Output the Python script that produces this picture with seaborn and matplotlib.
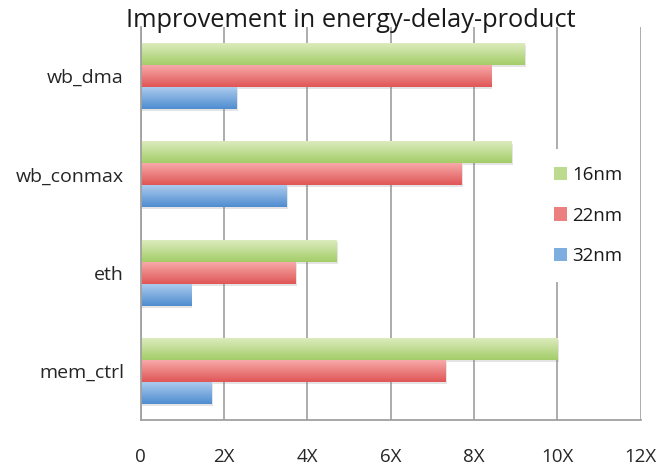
import numpy as np
import pandas as pd
import matplotlib
matplotlib.use("Agg")
import matplotlib.pyplot as plt
import matplotlib.patheffects as pe
from matplotlib.colors import LinearSegmentedColormap
from matplotlib.patches import Patch
import seaborn as sns

# Benchmark designs (top to bottom) and technology nodes
designs = ["wb_dma", "wb_conmax", "eth", "mem_ctrl"]
nodes = ["16nm", "22nm", "32nm"]

# Improvement factor in energy-delay-product per node
edp_16nm = [9.2, 8.9, 4.7, 10.0]
edp_22nm = [8.4, 7.7, 3.7, 7.3]
edp_32nm = [2.3, 3.5, 1.2, 1.7]

x_ticks = [0, 2, 4, 6, 8, 10, 12]
x_tick_labels = ["0", "2X", "4X", "6X", "8X", "10X", "12X"]

# light (top) / dark (bottom) shade of each series
shades = {
    "16nm": ("#dcebbd", "#a3cd68"),
    "22nm": ("#f7a9a9", "#e05656"),
    "32nm": ("#abcbee", "#4f8dd0"),
}
base = {"16nm": "#bcdb8f", "22nm": "#ec7f7f", "32nm": "#7eaee0"}

df = pd.DataFrame({
    "design": designs * 3,
    "node": [n for n in nodes for _ in designs],
    "value": edp_16nm + edp_22nm + edp_32nm,
})

sns.set_theme(style="white")
plt.rcParams["font.family"] = ["Open Sans", "DejaVu Sans"]
plt.rcParams["text.color"] = "#1a1a1a"

fig = plt.figure(figsize=(6.62, 4.66), dpi=100)
ax = fig.add_axes([0.2125, 0.0987, 0.7555, 0.8435])

sns.barplot(data=df, y="design", x="value", hue="node", order=designs,
            hue_order=nodes, palette=base, orient="h", width=0.67,
            ax=ax, legend=False, linewidth=0, saturation=1)

# vertical gradient fill and soft drop shadow on every bar
bars = list(ax.patches)
order = []
for node in nodes:
    order += [node] * len(designs)
grad = np.linspace(0, 1, 64).reshape(-1, 1)
for patch, node in zip(bars, order):
    x0, y0 = patch.get_x(), patch.get_y()
    w, h = patch.get_width(), patch.get_height()
    if w <= 0:
        continue
    patch.set_path_effects([
        pe.SimplePatchShadow(offset=(1.2, -1.5), shadow_rgbFace="#888888", alpha=0.22),
        pe.Normal(),
    ])
    cmap = LinearSegmentedColormap.from_list(node, list(shades[node]))
    im = ax.imshow(grad, cmap=cmap, aspect="auto", origin="upper",
                   extent=(x0, x0 + w, y0 + h, y0), interpolation="bicubic",
                   zorder=patch.get_zorder() + 0.1)
    im.set_clip_path(patch)

ax.set_xlim(0, 12)
ax.set_ylim(len(designs) - 0.5, -0.5)
ax.set_xticks(x_ticks)
ax.set_xticklabels(x_tick_labels, fontsize=13.5)
ax.set_yticks(np.arange(len(designs)))
ax.set_yticklabels(designs, fontsize=14)
ax.set_xlabel("")
ax.set_ylabel("")

# category separators as outward ticks on the y axis
ax.set_yticks(np.arange(len(designs) + 1) - 0.5, minor=True)
ax.tick_params(axis="y", which="major", length=0, pad=12)
ax.tick_params(axis="y", which="minor", length=7, width=1.2, color="#9a9a9a",
               direction="out")
ax.tick_params(axis="x", which="major", length=6, width=1.2, color="#9a9a9a",
               direction="inout", pad=17)

ax.grid(axis="x", color="#a6a6a6", linewidth=1.3)
ax.grid(axis="y", visible=False)
ax.set_axisbelow(True)
for side in ("top", "right"):
    ax.spines[side].set_visible(False)
for side in ("left", "bottom"):
    ax.spines[side].set_color("#a0a0a0")
    ax.spines[side].set_linewidth(1.3)

handles = [Patch(facecolor=base[n], edgecolor="none") for n in nodes]
leg = ax.legend(handles, nodes, loc="center left",
                bbox_to_anchor=(0.792, 0.52), frameon=True, fontsize=13.5,
                handlelength=0.7, handleheight=0.7, handletextpad=0.3,
                labelspacing=1.2, borderpad=0.9, borderaxespad=0)
leg.get_frame().set_facecolor("white")
leg.get_frame().set_edgecolor("none")
leg.get_frame().set_alpha(1)

fig.text(0.53, 0.955, "Improvement in energy-delay-product", ha="center",
         va="center", fontsize=18.3)

fig.savefig("out.png", dpi=100)
